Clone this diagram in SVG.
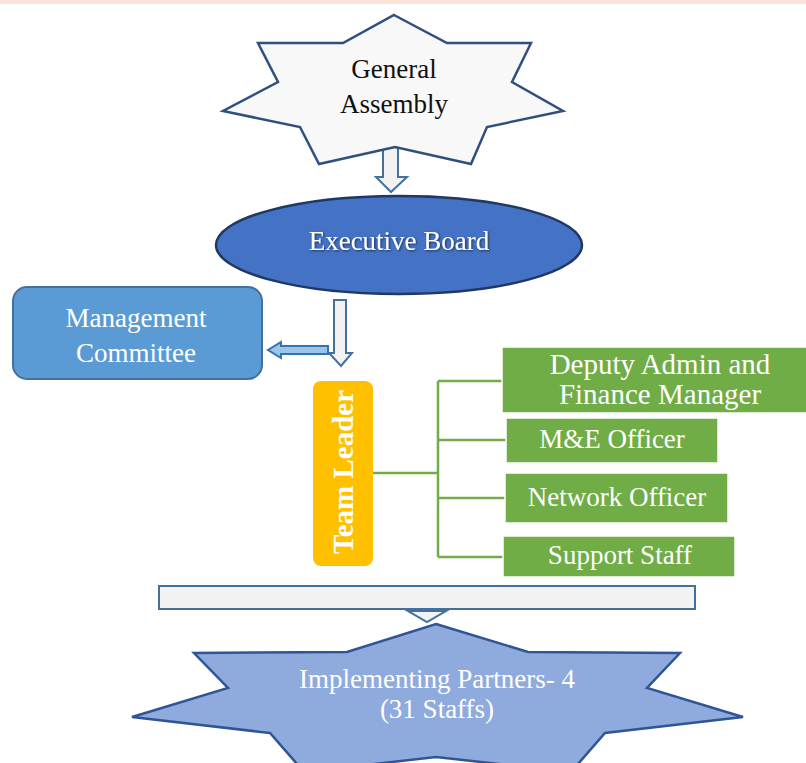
<svg xmlns="http://www.w3.org/2000/svg" width="806" height="763" viewBox="0 0 806 763">
<defs>
<style>
.t{font-family:"Liberation Serif","Times New Roman",serif;font-size:27px;text-anchor:middle}
.w{fill:#ffffff}
.k{fill:#111111}
.green{fill:#70ad47;stroke:#ffffff;stroke-width:1.5}
.conn{fill:none;stroke:#70ad47;stroke-width:2.5}
.barrow{fill:#f2f2f2;stroke:#41719c;stroke-width:2}
</style>
<filter id="sh" x="-10%" y="-30%" width="120%" height="160%">
<feDropShadow dx="1" dy="1" stdDeviation="0.8" flood-color="#000000" flood-opacity="0.6"/>
</filter>
</defs>
<rect x="0" y="0" width="806" height="763" fill="#ffffff"/>
<rect x="0" y="0" width="806" height="4" fill="#fce4d6"/>

<g id="connectors">
<polygon class="barrow" points="383,140 398,140 398,177 407,177 391,192 376,177 383,177"/>
<polygon class="barrow" points="334,300 346,300 346,353 352,353 341,366 329,353 334,353"/>
<polygon points="328,346 281,346 281,342 268,350 281,358 281,354 328,354" fill="#9dc3e6" stroke="#2e75b6" stroke-width="2"/>
<path class="conn" d="M373,473 H438 M438,381 V557 M438,381 H502 M438,440 H506 M438,498 H505 M438,557 H503"/>
<polygon class="barrow" points="408,611 446,611 427,622"/>
<rect class="barrow" x="159" y="586" width="536" height="23"/>
</g>

<g id="general-assembly">
<polygon points="394,15 447,43 531,43 512,82 563,111 487,127 471,164 395,147 319,164 300,127 223,111 278,82 258,43 343,43" fill="#f8f8f8" stroke="#2f4f7f" stroke-width="2.5" stroke-linejoin="miter"/>
<text class="t k" x="394" y="78">General</text>
<text class="t k" x="394" y="113">Assembly</text>
</g>

<g id="executive-board">
<ellipse cx="399" cy="245" rx="183" ry="49" fill="#4472c4" stroke="#1f3864" stroke-width="2.5"/>
<text class="t w" x="399" y="250" filter="url(#sh)">Executive Board</text>
</g>

<g id="management-committee">
<rect x="13" y="287" width="249" height="92" rx="14" fill="#5b9bd5" stroke="#41719c" stroke-width="2"/>
<text class="t w" x="136" y="327">Management</text>
<text class="t w" x="136" y="362">Committee</text>
</g>

<g id="team-leader">
<rect x="313" y="381" width="60" height="185" rx="8" fill="#ffc000"/>
<text class="t w" transform="translate(353,472) rotate(-90)" x="0" y="0" style="font-size:29px;font-weight:bold">Team Leader</text>
</g>

<g id="deputy-admin">
<rect class="green" x="502" y="347" width="306" height="66"/>
<text class="t w" x="660" y="374" style="font-size:29px">Deputy Admin and</text>
<text class="t w" x="660" y="404" style="font-size:29px">Finance Manager</text>
</g>

<g id="me-officer">
<rect class="green" x="506" y="418" width="212" height="45"/>
<text class="t w" x="612" y="448">M&amp;E Officer</text>
</g>

<g id="network-officer">
<rect class="green" x="505" y="473" width="223" height="50"/>
<text class="t w" x="617" y="506">Network Officer</text>
</g>

<g id="support-staff">
<rect class="green" x="503" y="536" width="232" height="41"/>
<text class="t w" x="620" y="564">Support Staff</text>
</g>

<g id="implementing-partners">
<polygon points="436,624 528,652 680,653 647,688 743,717 605,733 571,772 436,757 304,772 270,733 132,717 228,688 194,653 347,652" fill="#8faadc" stroke="#2f5597" stroke-width="2.5"/>
<text class="t w" x="437" y="688">Implementing Partners- 4</text>
<text class="t w" x="437" y="718">(31 Staffs)</text>
</g>
</svg>
